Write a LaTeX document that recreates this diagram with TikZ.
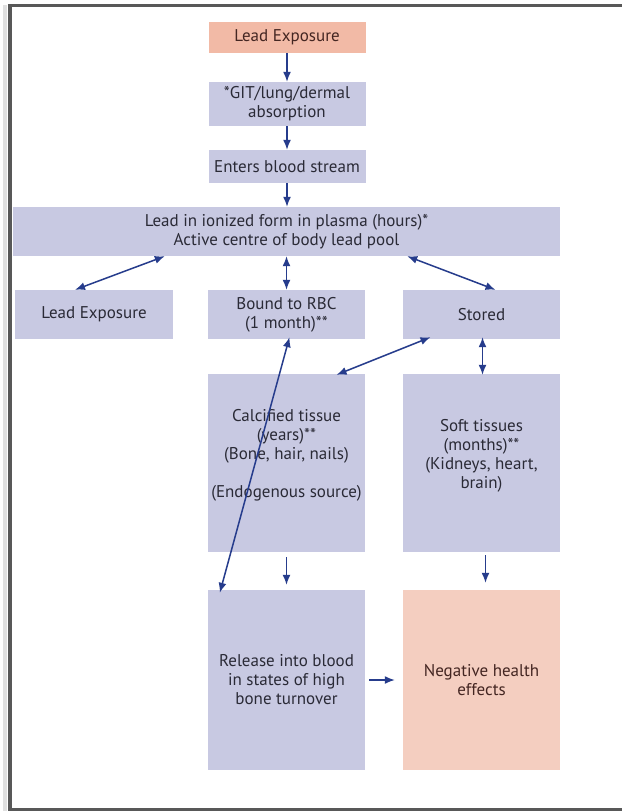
\documentclass[tikz,border=0pt]{standalone}
\usepackage{fontspec}
\setmainfont{PT Sans}
\usepackage{tikz}
\usetikzlibrary{arrows.meta}
\definecolor{mlav}{RGB}{200, 201, 226}
\definecolor{msalmon}{RGB}{242, 186, 166}
\definecolor{mpink}{RGB}{244, 206, 192}
\definecolor{mblue}{RGB}{38, 60, 140}
\definecolor{mtext}{RGB}{42, 42, 54}
\definecolor{mbrown}{RGB}{68, 38, 34}
\definecolor{mframe}{RGB}{88, 88, 88}
\tikzset{box/.style = {fill=mlav, text=mtext, align=center, inner sep=1pt,
                       minimum width=157pt, font=\fontsize{17}{19}\selectfont},
         hot/.style = {box, fill=msalmon, text=mbrown},
         link/.style = {mblue, line width=1.5pt, >={Latex[length=10pt, width=8pt]}}}

\begin{document}
\begin{tikzpicture}[x=1pt, y=-1pt]
    \useasboundingbox (0, 0) rectangle (621, 811);
    \fill [white] (0, 0) rectangle (621, 811);
    \draw [black!12, line width=4pt] (5, 5) -- (5, 811); % shadow
    \draw [mframe, line width=3.5pt] (10, 812) -- (10, 5.5) -- (625, 5.5);
    \draw [mframe, line width=3.5pt] (10, 809.5) -- (625, 809.5);

    \node [hot, minimum height=31pt] (expo) at (287, 37.5) {Lead Exposure};
    \node [box, minimum height=44pt] (absorb) at (287, 104) {*GIT/lung/dermal\\absorption};
    \node [box, minimum height=33pt] (enters) at (287, 166.5) {Enters blood stream};
    \node [box, minimum width=547pt, minimum height=49pt] (plasma) at (286.5, 231.5)
        {Lead in ionized form in plasma (hours)*\\Active centre of body lead pool};

    \node [box, minimum width=158pt, minimum height=49pt] (expoleft) at (94, 314.5) {Lead Exposure};
    \node [box, minimum height=49pt] (rbc) at (286.5, 314.5) {Bound to RBC\\(1 month)**};
    \node [box, minimum height=49pt] (stored) at (481.5, 314.5) {Stored};

    \node [box, minimum height=178pt] (calc) at (286.5, 463)
        {Calcified tissue\\(years)**\\(Bone, hair, nails)\\[19pt](Endogenous source)\\\mbox{}};
    \node [box, minimum height=178pt] (soft) at (481.5, 463)
        {Soft tissues\\(months)**\\(Kidneys, heart,\\brain)\\\mbox{}};

    \node [box, minimum height=180pt] (release) at (286.5, 680)
        {Release into blood\\in states of high\\bone turnover};
    \node [box, fill=mpink, text=mbrown, minimum height=180pt] (neg) at (481.5, 680)
        {Negative health\\effects};

    % down the middle
    \draw [link, ->] (expo) -- (absorb);
    \draw [link, ->] (absorb) -- (enters);
    \draw [link, ->] (enters) -- (enters |- plasma.north);

    % out of the pool
    \draw [link, <->] ([xshift=152pt]plasma.south west) -- ([xshift=-19pt]expoleft.north);
    \draw [link, <->] (rbc.north |- plasma.south) -- (rbc.north);
    \draw [link, <->] ([xshift=-153pt]plasma.south east) -- ([xshift=14pt]stored.north);

    \draw [link, <->] ([xshift=-51pt, yshift=2pt]stored.south) -- ([xshift=50pt, yshift=-1pt]calc.north);
    \draw [link, <->] ([xshift=1pt, yshift=2pt]stored.south) -- ([xshift=1pt, yshift=-1pt]soft.north);

    \draw [link, ->, shorten <=5pt, shorten >=5pt] (calc.south) -- (release.north);
    \draw [link, ->, shorten <=3pt, shorten >=7pt] ([xshift=4pt]soft.south) -- ([xshift=4pt]neg.north);
    \draw [link, ->, shorten <=4pt, shorten >=8pt] (release.east) -- (neg.west);

    \draw [link, <->] ([xshift=12pt, yshift=-3pt]release.north west) -- ([xshift=3pt, yshift=2pt]rbc.south); % over the bone box
\end{tikzpicture}
\end{document}
